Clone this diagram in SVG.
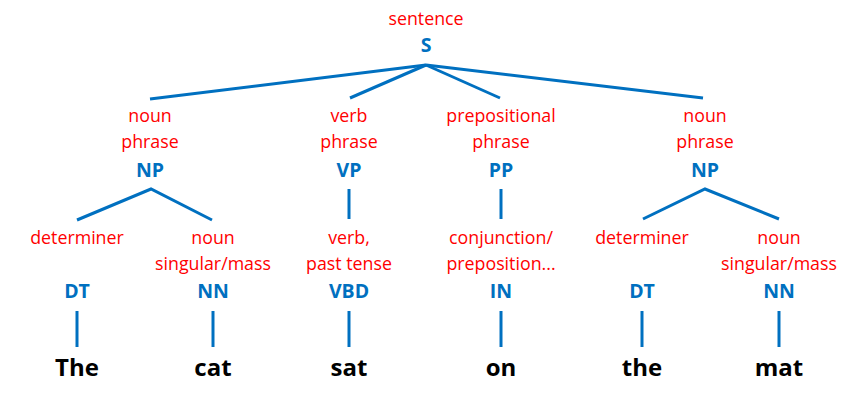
<svg xmlns="http://www.w3.org/2000/svg" width="854" height="400" viewBox="0 0 854 400">
<style>
.lab{font-family:"Open Sans","Noto Sans",sans-serif;font-size:17.8px;fill:#FF0000;text-anchor:middle}
.tag{font-family:"Open Sans","Noto Sans",sans-serif;font-size:19.5px;font-weight:bold;fill:#0070C0;text-anchor:middle}
.word{font-family:"Open Sans","Noto Sans",sans-serif;font-size:24px;font-weight:bold;fill:#000;text-anchor:middle}
.edge{stroke:#0070C0;stroke-width:3;fill:none;stroke-linecap:butt}
</style>
<rect width="854" height="400" fill="#fff"/>
<g id="connectors">
<line class="edge" x1="426" y1="65" x2="150" y2="99"/>
<line class="edge" x1="426" y1="65" x2="350" y2="98"/>
<line class="edge" x1="426" y1="65" x2="500" y2="98"/>
<line class="edge" x1="426" y1="65" x2="703" y2="98"/>
<polyline class="edge" points="77,220 151,189 212,220"/>
<polyline class="edge" points="643,219 705,189 779,219"/>
<line class="edge" x1="349" y1="189" x2="349" y2="219"/>
<line class="edge" x1="501" y1="189" x2="501" y2="219"/>
<line class="edge" x1="77" y1="311" x2="77" y2="347"/>
<line class="edge" x1="213" y1="311" x2="213" y2="347"/>
<line class="edge" x1="349" y1="311" x2="349" y2="347"/>
<line class="edge" x1="501" y1="311" x2="501" y2="347"/>
<line class="edge" x1="642" y1="311" x2="642" y2="347"/>
<line class="edge" x1="779" y1="311" x2="779" y2="347"/>
</g>
<g id="S">
<text class="lab" x="426" y="25">sentence</text>
<text class="tag" x="426" y="52">S</text>
</g>
<g id="NP1">
<text class="lab" x="150" y="122">noun</text>
<text class="lab" x="150" y="148">phrase</text>
<text class="tag" x="150" y="177">NP</text>
</g>
<g id="VP">
<text class="lab" x="349" y="122">verb</text>
<text class="lab" x="349" y="148">phrase</text>
<text class="tag" x="349" y="177">VP</text>
</g>
<g id="PP">
<text class="lab" x="501" y="122">prepositional</text>
<text class="lab" x="501" y="148">phrase</text>
<text class="tag" x="501" y="177">PP</text>
</g>
<g id="NP2">
<text class="lab" x="705" y="122">noun</text>
<text class="lab" x="705" y="148">phrase</text>
<text class="tag" x="705" y="177">NP</text>
</g>
<g id="DT1">
<text class="lab" x="77" y="244">determiner</text>
<text class="tag" x="77" y="298">DT</text>
</g>
<g id="NN1">
<text class="lab" x="213" y="244">noun</text>
<text class="lab" x="213" y="270">singular/mass</text>
<text class="tag" x="213" y="298">NN</text>
</g>
<g id="VBD">
<text class="lab" x="349" y="244">verb,</text>
<text class="lab" x="349" y="270">past tense</text>
<text class="tag" x="349" y="298">VBD</text>
</g>
<g id="IN">
<text class="lab" x="501" y="244">conjunction/</text>
<text class="lab" x="501" y="270">preposition...</text>
<text class="tag" x="501" y="298">IN</text>
</g>
<g id="DT2">
<text class="lab" x="642" y="244">determiner</text>
<text class="tag" x="642" y="298">DT</text>
</g>
<g id="NN2">
<text class="lab" x="779" y="244">noun</text>
<text class="lab" x="779" y="270">singular/mass</text>
<text class="tag" x="779" y="298">NN</text>
</g>
<g id="words">
<text class="word" x="77" y="376">The</text>
<text class="word" x="213" y="376">cat</text>
<text class="word" x="349" y="376">sat</text>
<text class="word" x="501" y="376">on</text>
<text class="word" x="642" y="376">the</text>
<text class="word" x="779" y="376">mat</text>
</g>
</svg>
